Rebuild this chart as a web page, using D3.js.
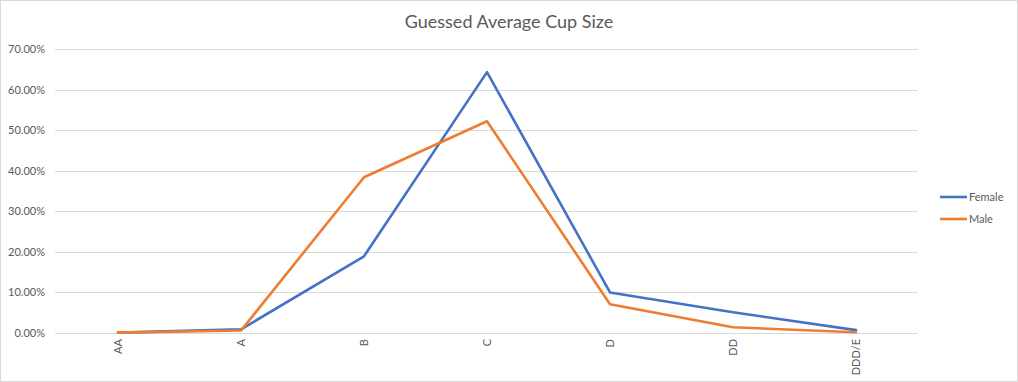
<!DOCTYPE html>
<meta charset="utf-8">
<html>
<head>
<style>
  body { margin: 0; background: #fff; }
  svg { display: block; font-family: Lato, "Open Sans", sans-serif; }
</style>
</head>
<body>
<script src="https://cdn.jsdelivr.net/npm/d3@7"></script>
<script>
  // chart data
  var cupSizes = ["AA", "A", "B", "C", "D", "DD", "DDD/E"];
  var femaleShare = [0.001, 0.009, 0.189, 0.643, 0.100, 0.051, 0.007];
  var maleShare = [0.001, 0.006, 0.384, 0.522, 0.071, 0.014, 0.002];
  var yTicks = [0, 0.1, 0.2, 0.3, 0.4, 0.5, 0.6, 0.7];
  var seriesNames = ["Female", "Male"];
  var seriesColors = ["#4472C4", "#ED7D31"];

  var W = 1018, H = 382;
  var svg = d3.select("body").append("svg")
    .attr("width", W).attr("height", H);

  // outer border
  svg.append("rect")
    .attr("x", 0.5).attr("y", 0.5)
    .attr("width", W - 1).attr("height", H - 1)
    .attr("fill", "#fff").attr("stroke", "#d9d9d9");

  svg.append("text")
    .attr("x", 509).attr("y", 28)
    .attr("text-anchor", "middle")
    .attr("font-size", 18).attr("fill", "#595959")
    .text("Guessed Average Cup Size");

  var x = d3.scaleBand().domain(cupSizes).range([56.5, 917.5]);
  var y = d3.scaleLinear().domain([0, 0.7]).range([333, 49]);

  // gridlines
  svg.append("g").selectAll("line").data(yTicks).enter().append("line")
    .attr("x1", 55).attr("x2", 918)
    .attr("y1", function(d) { return Math.round(y(d)) + 0.5; })
    .attr("y2", function(d) { return Math.round(y(d)) + 0.5; })
    .attr("stroke", "#d9d9d9").attr("stroke-width", 1);

  // y axis labels
  var yAxis = d3.axisLeft(y).tickValues(yTicks).tickSize(0).tickPadding(0)
    .tickFormat(function(d) { return (d * 100).toFixed(2) + "%"; });
  var gy = svg.append("g").attr("transform", "translate(45,0)").call(yAxis);
  gy.select(".domain").remove();
  gy.selectAll("text").attr("font-size", 11).attr("fill", "#595959")
    .attr("font-family", "Lato, sans-serif");

  // x axis labels (rotated)
  var xAxis = d3.axisBottom(x).tickSize(0).tickPadding(0);
  var gx = svg.append("g").attr("transform", "translate(0,333)").call(xAxis);
  gx.select(".domain").remove();
  gx.selectAll("text")
    .attr("font-size", 11).attr("fill", "#595959")
    .attr("font-family", "Lato, sans-serif")
    .attr("transform", "rotate(-90)")
    .attr("text-anchor", "end")
    .attr("x", -6).attr("y", 0).attr("dy", "0.35em");

  var line = d3.line()
    .x(function(d, i) { return x(cupSizes[i]) + x.bandwidth() / 2; })
    .y(function(d) { return y(d); });

  [femaleShare, maleShare].forEach(function(vals, i) {
    svg.append("path")
      .datum(vals)
      .attr("d", line)
      .attr("fill", "none")
      .attr("stroke", seriesColors[i])
      .attr("stroke-width", 2.6)
      .attr("stroke-linejoin", "round")
      .attr("stroke-linecap", "round");
  });

  // legend
  var leg = svg.append("g");
  seriesNames.forEach(function(name, i) {
    var ly = 197 + i * 22;
    leg.append("line")
      .attr("x1", 940).attr("x2", 967)
      .attr("y1", ly).attr("y2", ly)
      .attr("stroke", seriesColors[i]).attr("stroke-width", 2.6);
    leg.append("text")
      .attr("x", 969).attr("y", ly).attr("dy", "0.35em")
      .attr("font-size", 11).attr("fill", "#595959")
      .text(name);
  });
</script>
</body>
</html>
